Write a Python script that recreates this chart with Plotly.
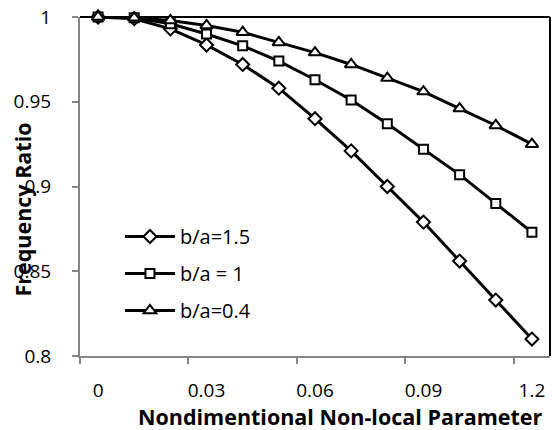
import plotly.graph_objects as go

x_vals = [0.00, 0.01, 0.02, 0.03, 0.04, 0.05, 0.06, 0.07, 0.08, 0.09, 0.10, 0.11, 0.12]
tick_vals = [0.00, 0.03, 0.06, 0.09, 0.12]
tick_text = ["0", "0.03", "0.06", "0.09", "1.2"]
y_tick_vals = [0.8, 0.85, 0.9, 0.95, 1.0]
y_tick_text = ["0.8", "0.85", "0.9", "0.95", "1"]

ba_15 = [1.000, 0.999, 0.993, 0.9835, 0.972, 0.958, 0.940, 0.921, 0.900, 0.879, 0.856, 0.833, 0.810]
ba_10 = [1.000, 0.9995, 0.996, 0.990, 0.983, 0.974, 0.963, 0.951, 0.937, 0.922, 0.907, 0.890, 0.873]
ba_04 = [1.000, 0.9995, 0.998, 0.995, 0.991, 0.985, 0.979, 0.972, 0.964, 0.956, 0.946, 0.936, 0.925]

names = ["b/a=1.5", "b/a = 1", "b/a=0.4"]
series = [ba_15, ba_10, ba_04]
symbols = ["diamond", "square", "triangle-up"]
sizes = [10, 9, 11]

FONT = "Open Sans"
fig = go.Figure()
for i, (nm, ys, sym, sz) in enumerate(zip(names, series, symbols, sizes)):
    fig.add_trace(go.Scatter(
        x=x_vals, y=ys, name=nm, mode="lines+markers",
        legendgroup=f"g{i}",
        line=dict(color="black", width=3),
        marker=dict(symbol=sym, size=sz, color="white", line=dict(color="black", width=2)),
        cliponaxis=False,
    ))

fig.update_layout(
    width=552, height=430,
    margin=dict(l=80, r=2, t=17, b=74),
    paper_bgcolor="white", plot_bgcolor="white",
    font=dict(family=FONT, size=20, color="black"),
    showlegend=True,
    legend=dict(x=0.085, y=0.41, xanchor="left", yanchor="top",
                bgcolor="rgba(0,0,0,0)", tracegroupgap=8, itemwidth=50,
                font=dict(family=FONT, size=20, color="black")),
    xaxis=dict(range=[-0.005, 0.125], tickvals=tick_vals, ticktext=tick_text,
               showgrid=False, zeroline=False, showline=True, linecolor="#868686", linewidth=2,
               ticks="", ticklabelstandoff=16,
               minor=dict(tickvals=[-0.005, 0.025, 0.055, 0.085, 0.115], ticks="outside",
                          ticklen=6, tickcolor="#868686", tickwidth=2, showgrid=False),
               tickfont=dict(family=FONT, size=19)),
    yaxis=dict(range=[0.8, 1.0], tickvals=y_tick_vals, ticktext=y_tick_text,
               showgrid=False, zeroline=False, showline=True, linecolor="#868686", linewidth=2,
               ticks="outside", ticklen=6, tickcolor="#868686", tickwidth=2,
               ticklabelstandoff=17,
               tickfont=dict(family=FONT, size=19)),
)

# plot area border (top and right)
fig.add_shape(type="line", xref="paper", yref="paper", x0=0, x1=1, y0=1, y1=1,
              line=dict(color="black", width=2), layer="below")
fig.add_shape(type="line", xref="paper", yref="paper", x0=1, x1=1, y0=0, y1=1,
              line=dict(color="black", width=2), layer="below")

fig.add_annotation(text="<b>Frequency Ratio</b>", xref="paper", yref="paper",
                   x=-0.122, y=0.431, textangle=-90, showarrow=False,
                   xanchor="center", yanchor="middle",
                   font=dict(family=FONT, size=21.5, color="black"))
fig.add_annotation(text="<b>Nondimentional Non-local Parameter</b>", xref="paper", yref="paper",
                   x=0.553, y=-0.177, showarrow=False, xanchor="center", yanchor="middle",
                   font=dict(family=FONT, size=21.5, color="black"))

fig.write_html("out.html")
